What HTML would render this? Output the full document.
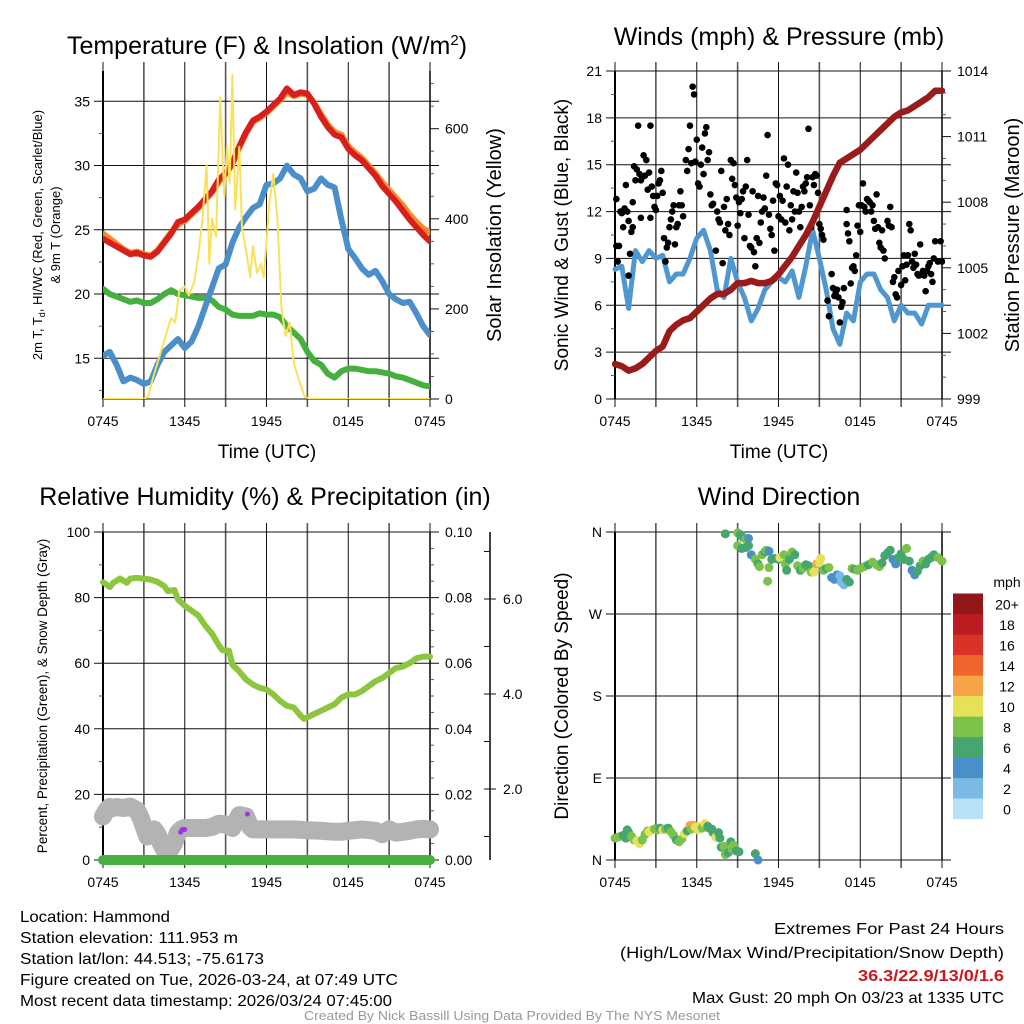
<!DOCTYPE html>
<html><head><meta charset="utf-8"><style>
html,body{margin:0;padding:0;background:#fff;}
svg{display:block;font-family:"Liberation Sans",Arial,sans-serif;}
</style></head><body>
<svg id="fig" width="1024" height="1024" viewBox="0 0 1024 1024" xmlns="http://www.w3.org/2000/svg">
<rect width="1024" height="1024" fill="#fff"/>
<g id="g1"></g>
<g id="g2"></g>
<g id="g3"></g>
<g id="g4"></g>
<text x="267" y="54" font-size="25" text-anchor="middle">Temperature (F) &amp; Insolation (W/m<tspan dy="-9" font-size="15">2</tspan><tspan dy="9">)</tspan></text>
<text x="779" y="45" font-size="25" text-anchor="middle">Winds (mph) &amp; Pressure (mb)</text>
<text x="265" y="505" font-size="25" text-anchor="middle">Relative Humidity (%) &amp; Precipitation (in)</text>
<text x="779" y="505" font-size="25" text-anchor="middle">Wind Direction</text>
<g font-size="16">
<text x="20" y="922" textLength="150" lengthAdjust="spacingAndGlyphs">Location: Hammond</text>
<text x="20" y="943" textLength="218" lengthAdjust="spacingAndGlyphs">Station elevation: 111.953 m</text>
<text x="20" y="964" textLength="244" lengthAdjust="spacingAndGlyphs">Station lat/lon: 44.513; -75.6173</text>
<text x="20" y="985" textLength="378" lengthAdjust="spacingAndGlyphs">Figure created on Tue, 2026-03-24, at 07:49 UTC</text>
<text x="20" y="1006" textLength="372" lengthAdjust="spacingAndGlyphs">Most recent data timestamp: 2026/03/24 07:45:00</text>
</g>
<g font-size="16" text-anchor="end">
<text x="1004" y="934" textLength="230" lengthAdjust="spacingAndGlyphs">Extremes For Past 24 Hours</text>
<text x="1004" y="958" textLength="384" lengthAdjust="spacingAndGlyphs">(High/Low/Max Wind/Precipitation/Snow Depth)</text>
<text x="1004" y="981" fill="#c8191e" font-weight="bold" textLength="146" lengthAdjust="spacingAndGlyphs">36.3/22.9/13/0/1.6</text>
<text x="1004" y="1003" textLength="312" lengthAdjust="spacingAndGlyphs">Max Gust: 20 mph On 03/23 at 1335 UTC</text>
</g>
<text x="512" y="1020" font-size="13" fill="#999" text-anchor="middle" textLength="416" lengthAdjust="spacingAndGlyphs">Created By Nick Bassill Using Data Provided By The NYS Mesonet</text>
</svg>
<script>
const halfHours = [0,0.5,1,1.5,2,2.5,3,3.5,4,4.5,5,5.5,6,6.5,7,7.5,8,8.5,9,9.5,10,10.5,11,11.5,12,12.5,13,13.5,14,14.5,15,15.5,16,16.5,17,17.5,18,18.5,19,19.5,20,20.5,21,21.5,22,22.5,23,23.5,24];
const tempRed = [24.3,24.0,23.7,23.4,23.1,23.2,23.0,22.9,23.3,24.0,24.7,25.6,25.8,26.3,26.8,27.4,28.0,28.9,29.4,30.2,31.5,32.6,33.5,33.8,34.2,34.7,35.2,36.0,35.5,35.7,35.6,34.8,33.8,33.0,32.4,32.2,31.3,30.8,30.4,29.8,29.2,28.4,27.8,27.2,26.5,25.8,25.2,24.6,24.1];
const temp9m = [24.7,24.3,23.9,23.5,23.2,23.3,23.1,23.0,23.4,24.1,24.8,25.4,25.7,26.2,26.7,27.3,27.9,28.7,29.3,30.1,31.4,32.5,33.4,33.7,34.1,34.6,35.1,35.7,35.4,35.6,35.5,34.9,34.0,33.2,32.6,32.4,31.5,31.0,30.6,30.0,29.4,28.7,28.1,27.5,26.9,26.2,25.6,25.1,24.8];
const windChill = [15.2,15.5,14.5,13.2,13.5,13.3,13.0,13.2,14.5,15.5,16.0,16.5,15.8,16.3,17.5,19.0,20.5,22.0,22.3,24.0,25.2,26.0,26.7,27.0,28.5,28.6,29.0,30.0,29.3,29.0,28.0,28.2,29.0,28.5,28.3,25.8,23.5,22.8,22.0,21.5,21.8,21.0,20.0,19.6,19.3,19.4,18.5,17.5,16.8];
const dewPoint = [20.4,20.0,19.8,19.6,19.4,19.5,19.3,19.3,19.6,20.0,20.3,20.0,19.9,19.8,19.7,19.7,19.5,19.0,18.8,18.4,18.3,18.3,18.3,18.5,18.4,18.4,18.2,17.5,17.0,16.5,15.5,14.8,14.5,13.8,13.5,14.0,14.2,14.2,14.1,14.0,14.0,13.9,13.8,13.6,13.5,13.3,13.1,12.9,12.8];
const solarHours = [0,3.0,3.3,3.7,4.2,4.7,5.0,5.3,5.6,6.0,6.3,6.7,7.0,7.3,7.6,7.8,8.0,8.3,8.6,8.9,9.1,9.3,9.5,9.7,10.0,10.2,10.5,10.8,11.0,11.3,11.6,11.8,12.2,12.5,12.8,13.1,13.4,13.7,14.0,14.4,14.8,15.2,24];
const solarVals = [0,0,5,50,100,150,180,170,240,250,230,260,320,400,520,300,400,360,670,450,560,480,720,420,560,380,330,270,340,280,300,270,430,500,400,200,140,170,80,40,5,0,0];
const windSpeed = [8.3,8.5,5.8,9.5,8.8,9.5,9.0,9.2,7.5,8.0,8.0,9.0,10.3,10.8,9.5,7.0,6.5,9.0,7.5,6.5,5.0,5.8,7.0,7.5,7.8,7.5,8.2,6.5,8.5,10.8,9.0,7.0,4.5,3.5,5.5,5.0,7.5,8.0,8.0,7.0,6.5,5.0,6.0,5.5,5.5,4.8,6.0,6.0,6.0];
const pressure = [1000.6,1000.5,1000.3,1000.4,1000.6,1000.9,1001.2,1001.4,1002.1,1002.4,1002.6,1002.7,1003.0,1003.3,1003.6,1003.8,1003.8,1004.0,1004.3,1004.3,1004.4,1004.3,1004.3,1004.4,1004.7,1005.1,1005.5,1006.0,1006.5,1007.1,1007.8,1008.5,1009.2,1009.8,1010.0,1010.2,1010.4,1010.7,1011.0,1011.3,1011.6,1011.9,1012.1,1012.2,1012.4,1012.6,1012.8,1013.1,1013.1];
const gustHours = [0.1,0.1,0.2,0.3,0.4,0.5,0.6,0.7,0.8,0.9,1.0,1.0,1.1,1.2,1.3,1.3,1.4,1.5,1.6,1.7,1.8,1.9,1.9,2.0,2.1,2.2,2.3,2.4,2.5,2.6,2.6,2.7,2.8,2.9,3.0,3.1,3.2,3.3,3.4,3.5,3.6,3.7,3.8,3.9,4.0,4.1,4.2,4.3,4.4,4.5,4.6,4.7,4.8,4.9,5.0,5.2,5.3,5.4,5.5,5.6,5.7,5.8,5.9,6.0,6.1,6.2,6.3,6.4,6.5,6.6,6.7,6.8,6.9,7.0,7.1,7.2,7.4,7.5,7.6,7.7,7.8,7.9,8.0,8.1,8.2,8.3,8.4,8.5,8.6,8.7,8.8,8.9,9.0,9.1,9.2,9.3,9.4,9.5,9.6,9.7,9.8,9.9,10.0,10.1,10.2,10.3,10.4,10.5,10.6,10.7,10.8,10.9,11.0,11.1,11.2,11.3,11.4,11.5,11.6,11.7,11.8,11.9,12.0,12.1,12.2,12.3,12.4,12.5,12.6,12.7,12.8,12.9,13.0,13.1,13.2,13.3,13.4,13.5,13.6,13.7,13.8,13.9,14.0,14.1,14.2,14.3,14.4,14.5,14.6,14.7,14.8,14.9,15.0,15.1,15.2,15.3,15.6,15.7,15.9,16.0,16.1,16.2,16.3,16.4,16.5,16.6,16.7,16.8,17.0,17.0,17.1,17.2,17.3,17.4,17.5,17.6,17.7,17.8,17.9,18.0,18.1,18.2,18.3,18.4,18.5,18.6,18.7,18.8,18.9,19.0,19.1,19.2,19.3,19.4,19.5,19.6,19.7,19.8,20.0,20.1,20.2,20.3,20.4,20.5,20.6,20.7,20.8,21.0,21.1,21.2,21.3,21.4,21.5,21.6,21.7,21.8,21.9,22.0,22.1,22.2,22.3,22.4,22.6,22.7,22.8,22.9,23.0,23.1,23.2,23.3,23.4,23.5,23.7,23.9,24.0];
const gustVals = [12.8,9.8,8.8,9.8,12.0,11.9,11.0,12.2,13.7,12.0,11.4,7.9,9.3,10.7,11.0,12.6,14.9,14.0,14.7,17.5,14.4,14.0,11.6,14.2,15.6,14.3,15.3,13.4,14.5,17.5,11.6,13.6,13.0,12.3,12.1,13.0,13.8,14.0,14.6,13.2,10.3,8.8,9.7,10.0,11.0,11.5,12.0,12.4,9.9,11.0,11.2,12.4,13.3,12.4,11.7,15.3,14.6,16.0,17.5,15.1,20.0,19.5,15.2,16.6,13.8,13.6,15.0,16.1,14.4,17.0,17.4,15.3,15.8,13.1,12.4,12.5,9.5,12.0,11.5,11.3,14.6,8.7,12.3,10.8,12.8,11.2,10.5,15.3,14.1,15.1,13.7,12.9,11.1,12.6,11.9,12.8,13.3,10.3,13.6,15.3,11.8,9.8,9.7,13.3,9.4,8.5,10.3,13.0,10.0,11.3,12.0,12.9,12.2,14.3,16.9,11.8,10.9,10.5,12.7,9.5,13.8,13.7,11.7,13.0,11.5,12.7,15.4,11.3,13.6,15.0,10.8,12.4,11.5,13.3,12.0,14.5,13.2,12.0,11.0,12.3,13.6,13.3,13.8,14.2,17.3,12.4,11.0,14.2,13.7,14.4,14.3,13.2,11.2,10.9,10.5,10.2,6.3,5.3,8.0,7.1,6.6,6.8,7.0,6.5,4.9,5.9,6.2,7.1,11.2,12.1,10.6,10.1,7.4,8.4,8.5,8.2,9.2,11.1,12.4,10.7,12.4,13.8,12.3,12.0,12.8,12.7,12.6,12.0,12.4,11.4,10.9,13.1,11.0,10.0,9.7,10.8,9.5,9.0,11.4,11.1,12.3,11.0,7.5,7.8,6.7,6.5,8.2,7.3,8.5,9.2,7.6,8.6,9.2,11.2,10.8,8.8,8.4,9.3,8.6,8.0,7.9,9.9,8.2,7.9,6.9,8.2,8.5,8.7,8.0,7.5,9.0,10.1,8.8,10.1,8.8];
const rhHours = [0,0.25,0.5,0.75,1.25,1.75,2,2.5,3,3.5,4,4.5,4.75,5.25,5.5,6,6.5,7,7.5,8,8.5,8.75,9.25,9.5,10,10.5,11,11.5,12,12.5,13,13.5,14,14.5,14.75,15,15.5,16,16.5,17,17.5,18,18.5,19,19.5,20,20.5,21,21.5,22,22.5,23,23.5,24];
const rhVals = [84.7,84.0,83.2,84.5,85.8,84.5,85.8,86,85.8,85.5,84.8,83.5,82.0,82.3,79.5,77.5,76.0,74.5,71.5,69.0,65.5,64.0,63.8,59.5,57.5,55.0,53.5,52.5,52.0,50.5,48.5,47.0,46.5,44.0,43.0,43.5,44.5,45.5,46.5,47.5,49.5,50.5,50.5,51.5,53.0,54.5,55.5,57.0,58.5,59.0,60.0,61.5,62.0,62.0];
const snowHours = [0,0.25,0.5,0.75,1,1.5,2,2.5,2.75,3,3.25,3.5,3.75,4,4.25,4.5,4.75,5,5.25,5.5,5.75,6,6.5,7,7.5,8,8.5,9,9.5,10,10.5,10.8,11,12,13,14,15,16,17,17.5,18,19,20,20.5,21,21.5,22,22.5,23,23.5,24];
const snowDepth = [1.42,1.55,1.62,1.6,1.62,1.6,1.63,1.55,1.4,1.2,1.0,1.08,1.15,1.05,0.85,0.72,0.72,0.75,0.88,1.08,1.15,1.18,1.18,1.18,1.18,1.2,1.27,1.25,1.18,1.45,1.42,1.2,1.15,1.15,1.15,1.15,1.13,1.12,1.1,1.1,1.12,1.15,1.12,1.05,1.15,1.08,1.1,1.12,1.15,1.16,1.15];
const precipHours = [0,24];
const precipVals = [0,0];
const purpleHours = [5.7,5.8,5.9,6.0,10.6];
const purpleVals = [8.5,9.2,9.3,9.3,14];
const dirHours = [0,0.2,0.4,0.6,0.8,0.9,1.0,1.2,1.4,1.6,1.8,2.0,2.2,2.4,2.5,2.7,2.9,3.1,3.3,3.5,3.7,3.9,4.1,4.3,4.5,4.7,4.9,5.1,5.3,5.5,5.6,5.8,5.9,6.1,6.3,6.4,6.6,6.8,6.9,7.1,7.2,7.4,7.6,7.7,7.8,8.0,8.1,8.3,8.5,8.6,8.7,8.9,9.1,10.3,10.5,
 8.1,9.0,9.2,9.4,9.6,9.8,9.0,9.3,9.6,9.8,10.0,10.3,10.5,10.6,10.8,11.0,11.1,11.3,11.5,11.7,11.3,11.2,12.0,12.1,12.4,12.5,12.6,12.8,13.0,13.2,13.4,13.6,13.8,14.0,14.2,14.4,14.6,14.8,15.0,15.1,15.3,15.5,15.7,15.9,16.1,16.3,16.5,16.6,16.8,17.0,17.2,17.4,17.6,17.8,18.0,18.3,18.6,18.9,19.2,19.4,19.6,19.8,20.0,20.2,20.4,20.6,20.8,21.0,21.2,21.4,21.6,21.8,22.0,22.2,22.4,22.6,22.8,23.0,23.2,23.4,23.7,24.0];
const dirDegrees = [24,25,26,27,24,33,30,26,22,21,18,22,28,32,31,33,34,33,35,33,34,35,31,27,22,20,23,29,32,38,34,38,36,33,37,35,40,37,35,34,30,25,30,24,14,15,6,8,20,12,16,10,9,7,0,
 358,359,357,354,352,353,345,342,343,345,335,330,325,322,335,338,340,339,330,331,321,306,330,332,335,325,318,330,338,335,323,318,320,324,323,316,316,325,326,331,318,320,321,310,308,313,312,305,302,308,305,320,319,318,320,322,324,327,324,322,326,334,337,340,330,325,332,336,330,342,328,318,313,317,323,328,325,330,332,335,332,328];
const dirSpeeds = [8,9,8,7,7,6,6,8,9,10,10,8,8,9,10,10,8,8,7,10,8,6,8,8,7,8,8,10,7,12,9,12,10,10,10,8,10,7,7,6,7,10,6,6,6,8,8,6,6,8,8,6,6,6,4,
 6,8,6,6,8,4,8,6,6,6,4,8,6,8,8,6,8,4,6,6,8,8,6,10,8,8,6,6,8,6,8,6,8,6,6,8,10,12,10,10,8,6,8,4,4,4,2,2,2,6,6,8,6,8,8,8,6,8,8,8,6,6,6,6,4,4,6,6,6,8,6,4,4,6,6,8,6,6,6,6,8,8];
const speedBinLabels = ["0","2","4","6","8","10","12","14","16","18","20+"];
const speedBinColors = ["#b7e2f8","#7cb9e4","#4a8fc7","#47a570","#7cc24a","#e6e158","#f6a546","#ef652c","#dc3128","#bc1b22","#911719"];
const timeLabels = ["0745","1345","1945","0145","0745"];
const tempTicks = [15,20,25,30,35];
const solarTicks = [0,200,400,600];
const windTicks = [0,3,6,9,12,15,18,21];
const pressTicks = [999,1002,1005,1008,1011,1014];
const rhTicks = [0,20,40,60,80,100];
const precipTicks = ["0.00","0.02","0.04","0.06","0.08","0.10"];
const snowTicks = ["2.0","4.0","6.0"];
const dirLabels = ["N","E","S","W","N"];

const NS = "http://www.w3.org/2000/svg";
function mk(parent, tag, attrs, name) {
  const el = document.createElementNS(NS, tag);
  for (const k in attrs) el.setAttribute(k, attrs[k]);
  
  
  if (parent) parent.appendChild(el);
  return el;
}
function txt(parent, x, y, s, size, anchor, name, extra) {
  const t = mk(parent, 'text', Object.assign({x: x, y: y, 'font-size': size, 'text-anchor': anchor}, extra || {}), name);
  t.textContent = s;
  return t;
}
function pathD(xs, ys, fx, fy) {
  let d = "";
  for (let i = 0; i < xs.length; i++) d += (i ? "L" : "M") + fx(xs[i]).toFixed(1) + " " + fy(ys[i]).toFixed(1);
  return d;
}
const TOP1 = 71, BOT1 = 399, TOP2 = 532, BOT2 = 860;
function xScale(x0) { return h => x0 + h * 327 / 24; }
function lin(d0, d1, p0, p1) { return v => p0 + (v - d0) * (p1 - p0) / (d1 - d0); }

function frame(g, x0, top, bot) {
  const x1 = x0 + 327;
  const xs = xScale(x0);
  for (let h = 0; h <= 24; h += 3) {
    mk(g, 'line', {x1: xs(h), x2: xs(h), y1: top - 9, y2: bot + 8, stroke: h % 6 === 3 ? '#555' : '#111', 'stroke-width': h % 6 === 3 ? 1.6 : 1}, 'x-gridline');
  }
  for (let i = 0; i < 5; i++) txt(g, xs(i * 6), bot + 27, timeLabels[i], 14, 'middle', 'x-tick-label');
  mk(g, 'line', {x1: x0, x2: x0, y1: top, y2: bot, stroke: '#000', 'stroke-width': 2}, 'left-spine');
  mk(g, 'line', {x1: x1, x2: x1, y1: top, y2: bot, stroke: '#000', 'stroke-width': 1.5}, 'right-spine');
  return xs;
}
function hgrid(g, x0, y, label, rightLabel) {
  mk(g, 'line', {x1: x0 - 9, x2: x0 + 327 + 9, y1: y, y2: y, stroke: '#111', 'stroke-width': 1}, 'y-gridline');
  if (label !== null) txt(g, x0 - 13, y + 5, label, 14, 'end', 'y-tick-label');
  if (rightLabel !== null) txt(g, x0 + 327 + 15, y + 5, rightLabel, 14, 'start', 'right-tick-label');
}
function minorL(g, x0, y) { mk(g, 'line', {x1: x0 - 4, x2: x0, y1: y, y2: y, stroke: '#555', 'stroke-width': 1}, 'minor-tick'); }
function minorR(g, x0, y) { mk(g, 'line', {x1: x0 + 327, x2: x0 + 331, y1: y, y2: y, stroke: '#555', 'stroke-width': 1}, 'minor-tick'); }
function rot(g, x, y, s, size, name) {
  return txt(g, x, y, s, size, 'middle', name, {transform: 'rotate(-90 ' + x + ' ' + y + ')'});
}

(function(){
  const g = document.getElementById('g1');
  const X0 = 103;
  const xs = frame(g, X0, TOP1, BOT1);
  const yT = lin(15, 35, 358.3, 101.3);
  const yW = lin(0, 600, 399, 128.7);
  for (let v = 12.5; v < 37.5; v += 5) minorL(g, X0, yT(v));
  for (let v = 50; v <= 700; v += 50) if (v % 200) minorR(g, X0, yW(v));
  tempTicks.forEach(v => hgrid(g, X0, yT(v), String(v), null));
  solarTicks.forEach(v => {
    mk(g, 'line', {x1: X0 + 327, x2: X0 + 336, y1: yW(v), y2: yW(v), stroke: '#111'}, 'right-tick');
    txt(g, X0 + 342, yW(v) + 5, String(v), 14, 'start', 'right-tick-label');
  });
  mk(g, 'line', {x1: X0, x2: X0 + 327, y1: BOT1, y2: BOT1, stroke: '#111'}, 'x-axis-line');
  const clip = mk(g, 'clipPath', {id: 'c1'}, 'clip');
  mk(clip, 'rect', {x: X0, y: TOP1, width: 327, height: BOT1 - TOP1}, 'clip-rect');
  const pg = mk(g, 'g', {'clip-path': 'url(#c1)', fill: 'none', 'stroke-linejoin': 'round', 'stroke-linecap': 'round'}, 'series-group');
  mk(pg, 'path', {d: pathD(halfHours, dewPoint, xs, yT), stroke: '#46b03f', 'stroke-width': 6}, 'dewpoint-line');
  mk(pg, 'path', {d: pathD(halfHours, windChill, xs, yT), stroke: '#4a8fca', 'stroke-width': 6}, 'wind-chill-line');
  mk(pg, 'path', {d: pathD(halfHours, temp9m, xs, yT), stroke: '#f58a2a', 'stroke-width': 6}, 'temp-9m-line');
  mk(pg, 'path', {d: pathD(halfHours, tempRed, xs, yT), stroke: '#d7201e', 'stroke-width': 6}, 'temp-2m-line');
  mk(pg, 'path', {d: pathD(solarHours, solarVals, xs, yW), stroke: '#fbe15b', 'stroke-width': 2}, 'solar-line');
  txt(g, 267, 458, 'Time (UTC)', 19, 'middle', 'x-axis-title');
  const t1 = rot(g, 42, 235, '', 13, 'left-axis-title-line1');
  t1.innerHTML = '2m T, T<tspan font-size="9" dy="3">d</tspan><tspan dy="-3">, HI/WC (Red, Green, Scarlet/Blue)</tspan>';
  rot(g, 60, 235, '& 9m T (Orange)', 13, 'left-axis-title-line2');
  rot(g, 501, 235, 'Solar Insolation (Yellow)', 20, 'right-axis-title');
})();

(function(){
  const g = document.getElementById('g2');
  const X0 = 615;
  const xs = frame(g, X0, TOP1, BOT1);
  const yS = lin(0, 21, 399, 71);
  const yP = lin(999, 1014, 399, 71);
  for (let v = 1.5; v < 21; v += 3) minorL(g, X0, yS(v));
  for (let v = 1000; v < 1014; v++) if ((v - 999) % 3) minorR(g, X0, yP(v));
  windTicks.forEach(v => hgrid(g, X0, yS(v), String(v), null));
  pressTicks.forEach(v => {
    mk(g, 'line', {x1: X0 + 327, x2: X0 + 336, y1: yP(v), y2: yP(v), stroke: '#111'}, 'right-tick');
    txt(g, X0 + 342, yP(v) + 5, String(v), 14, 'start', 'right-tick-label');
  });
  const clip = mk(g, 'clipPath', {id: 'c2'}, 'clip');
  mk(clip, 'rect', {x: X0 - 3, y: TOP1, width: 333, height: BOT1 - TOP1}, 'clip-rect');
  const pg = mk(g, 'g', {'clip-path': 'url(#c2)', fill: 'none', 'stroke-linejoin': 'round', 'stroke-linecap': 'round'}, 'series-group');
  mk(pg, 'path', {d: pathD(halfHours, windSpeed, xs, yS), stroke: '#4f97d1', 'stroke-width': 5}, 'wind-speed-line');
  for (let i = 0; i < gustHours.length; i++) {
    mk(pg, 'circle', {cx: xs(gustHours[i]), cy: yS(gustVals[i]), r: 3.3, fill: '#000', stroke: 'none'}, 'gust-point');
  }
  mk(pg, 'path', {d: pathD(halfHours, pressure, xs, yP), stroke: '#9b1b1b', 'stroke-width': 6.5}, 'pressure-line');
  txt(g, 779, 458, 'Time (UTC)', 19, 'middle', 'x-axis-title');
  rot(g, 568, 235, 'Sonic Wind & Gust (Blue, Black)', 19, 'left-axis-title');
  rot(g, 1019, 235, 'Station Pressure (Maroon)', 20, 'right-axis-title');
})();

(function(){
  const g = document.getElementById('g3');
  const X0 = 103;
  const xs = frame(g, X0, TOP2, BOT2);
  const yR = lin(0, 100, 860, 532);
  const ySn = lin(0, 2, 884, 789);
  for (let v = 10; v < 100; v += 20) minorL(g, X0, yR(v));
  for (let v = 5; v < 100; v += 5) if (v % 20) minorR(g, X0, yR(v));
  rhTicks.forEach((v, i) => hgrid(g, X0, yR(v), String(v), precipTicks[i]));
  mk(g, 'line', {x1: 490, x2: 490, y1: 532, y2: 860, stroke: '#000', 'stroke-width': 1.5}, 'snow-axis-line');
  for (let v = 1; v <= 7; v++) {
    const major = v % 2 === 0;
    mk(g, 'line', {x1: 484, x2: 490, y1: ySn(v), y2: ySn(v), stroke: '#111'}, 'snow-tick');
    if (major) {
      mk(g, 'line', {x1: 490, x2: 496, y1: ySn(v), y2: ySn(v), stroke: '#111'}, 'snow-tick');
      txt(g, 503, ySn(v) + 5, snowTicks[v / 2 - 1], 14, 'start', 'snow-tick-label');
    }
  }
  const clip = mk(g, 'clipPath', {id: 'c3'}, 'clip');
  mk(clip, 'rect', {x: X0 - 12, y: TOP2, width: 351, height: BOT2 - TOP2 + 12}, 'clip-rect');
  const pg = mk(g, 'g', {'clip-path': 'url(#c3)', fill: 'none', 'stroke-linejoin': 'round', 'stroke-linecap': 'round'}, 'series-group');
  mk(pg, 'path', {d: pathD(snowHours, snowDepth, xs, ySn), stroke: '#b3b3b3', 'stroke-width': 18}, 'snow-depth-line');
  mk(pg, 'path', {d: pathD(precipHours, precipVals, xs, v => 860 - v * 3280), stroke: '#46b03f', 'stroke-width': 10}, 'precip-line');
  mk(pg, 'path', {d: pathD(rhHours, rhVals, xs, yR), stroke: '#8cc63f', 'stroke-width': 6}, 'rh-line');
  for (let i = 0; i < purpleHours.length; i++) {
    mk(pg, 'circle', {cx: xs(purpleHours[i]), cy: yR(purpleVals[i]), r: 2.5, fill: '#a230e8'}, 'purple-point');
  }
  rot(g, 47, 696, 'Percent, Precipitation (Green), & Snow Depth (Gray)', 13.5, 'left-axis-title');
})();

(function(){
  const g = document.getElementById('g4');
  const X0 = 615;
  const xs = frame(g, X0, TOP2, BOT2);
  const yD = lin(0, 360, 860, 532);
  dirLabels.forEach((s, i) => hgrid(g, X0, yD(i * 90), s, null));
  for (let i = 0; i < dirHours.length; i++) {
    let bin = Math.min(10, Math.floor(dirSpeeds[i] / 2));
    mk(g, 'circle', {cx: xs(dirHours[i]), cy: yD(dirDegrees[i]), r: 4.5, fill: speedBinColors[bin]}, 'direction-point');
  }
  const cb = mk(g, 'g', {}, 'speed-colorbar');
  for (let i = 0; i < speedBinColors.length; i++) {
    const y = 819 - (i + 1) * 20.5;
    mk(cb, 'rect', {x: 953, y: y, width: 30, height: 20.6, fill: speedBinColors[i]}, 'colorbar-band');
    txt(cb, 1007, y + 16, speedBinLabels[i], 14, 'middle', 'colorbar-label');
  }
  txt(cb, 1007, 587, 'mph', 14, 'middle', 'colorbar-title');
  rot(g, 568, 696, 'Direction (Colored By Speed)', 19, 'left-axis-title');
})();
</script>
</body></html>
